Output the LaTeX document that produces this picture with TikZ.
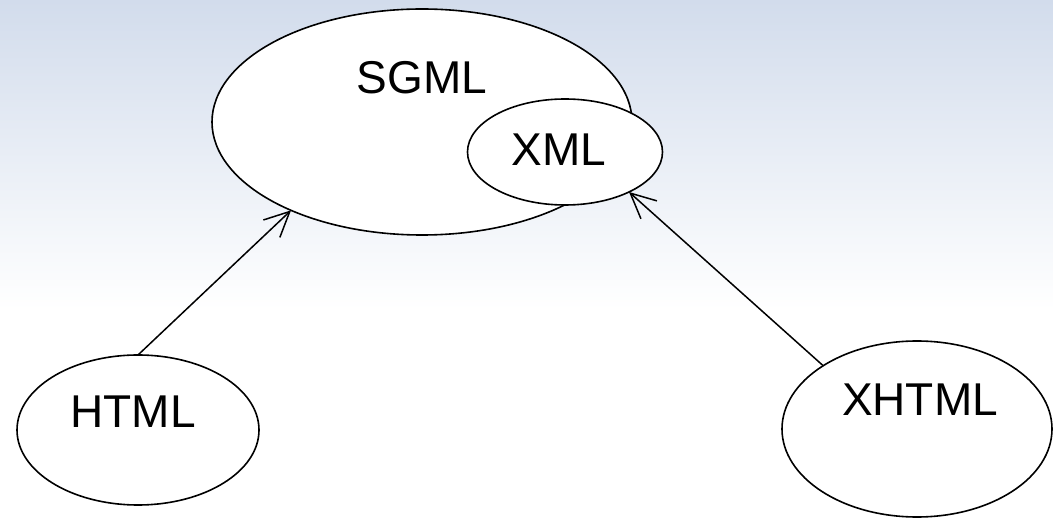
\documentclass[tikz,border=0pt]{standalone}
\usepackage{fontspec}
\setmainfont{Liberation Sans}
\usepackage{tikz}
\usetikzlibrary{arrows.meta,shapes.geometric}

\definecolor{bgtop}{RGB}{210,220,236}

\begin{document}
\begin{tikzpicture}[x=1pt,y=-1pt,
        lang/.style={ellipse,draw,fill=white,line width=1.6pt,inner sep=0pt,outer sep=0pt},
        langname/.style={font=\fontsize{46}{50}\selectfont},
        link/.style={line width=1.5pt,-{Straight Barb[length=25pt,width=24pt]}}]
                \useasboundingbox (0,0) rectangle (1053,518);
                \fill[white] (0,0) rectangle (1053,518);
                \shade[top color=bgtop,bottom color=white] (0,0) rectangle (1053,310);
                \node[lang,minimum width=420pt,minimum height=226pt] (sgml) at (422,122) {};
                \node[lang,minimum width=195pt,minimum height=106pt] (xml) at (565,152) {};
                \node[lang,minimum width=242pt,minimum height=150pt] (html) at (138,430) {};
                \node[lang,minimum width=270pt,minimum height=176pt] (xhtml) at (917,429) {};
                \node[langname] (sgmltext) at (422,78) {SGML};
                \node[langname] (xmltext) at (559,150) {XML};
                \node[langname] (htmltext) at (133,412) {HTML};
                \node[langname] (xhtmltext) at (920,400) {XHTML};
                \draw[link] (html.north) -- (sgml.214);
                \draw[link] (xhtml.146) -- (xml.328);
\end{tikzpicture}
\end{document}
